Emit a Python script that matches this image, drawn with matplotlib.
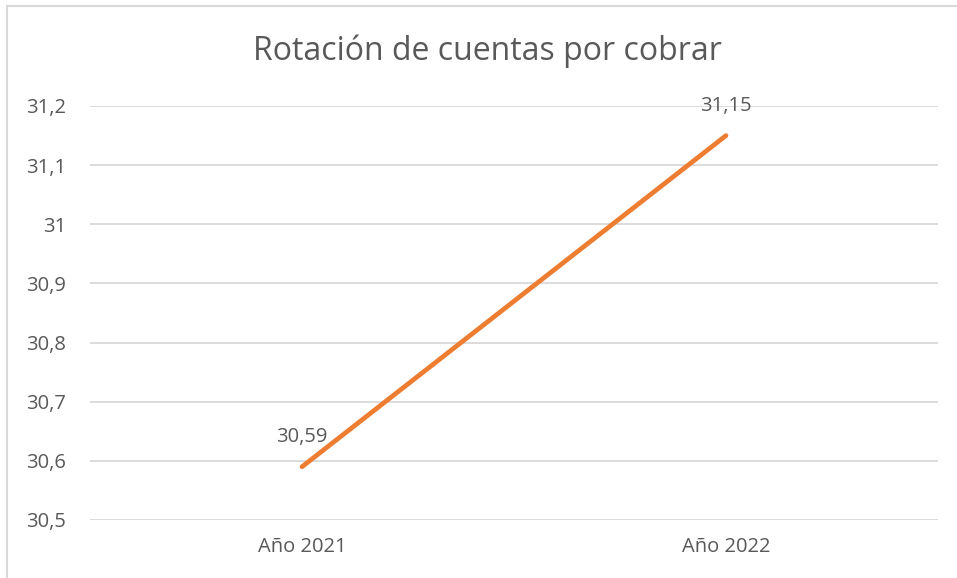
import matplotlib.pyplot as plt
from matplotlib.patches import Rectangle

years = ['Año 2021', 'Año 2022']
rotation = [30.59, 31.15]
value_labels = ['30,59', '31,15']
y_ticks = [30.5, 30.6, 30.7, 30.8, 30.9, 31.0, 31.1, 31.2]
y_tick_labels = ['30,5', '30,6', '30,7', '30,8', '30,9', '31', '31,1', '31,2']

text_color = '#595959'
plt.rcParams['font.family'] = ['Open Sans', 'DejaVu Sans']

fig = plt.figure(figsize=(9.57, 5.78), dpi=100)
ax = fig.add_axes([90 / 957, 58 / 578, 848 / 957, 414 / 578])

# chart border (only top and left edges are visible in the original)
fig.patches.append(Rectangle((7 / 957, -0.1), 1.2, (578 - 6) / 578 + 0.1,
                             transform=fig.transFigure, fill=False,
                             edgecolor='#D9D9D9', linewidth=1.5))

x = list(range(len(years)))
ax.plot(x, rotation, color='#ED7D31', linewidth=3.4, solid_capstyle='round')
for xi, yi, lab in zip(x, rotation, value_labels):
    ax.annotate(lab, (xi, yi), xytext=(0, 14), textcoords='offset points',
                ha='center', va='bottom', fontsize=14.5, color=text_color)

ax.set_xlim(-0.5, 1.5)
ax.set_ylim(30.5, 31.2)
ax.set_xticks(x)
ax.set_xticklabels(years)
ax.set_yticks(y_ticks)
ax.set_yticklabels(y_tick_labels)
ax.tick_params(length=0, labelsize=14.5, labelcolor=text_color)
ax.tick_params(axis='x', pad=12)
ax.tick_params(axis='y', pad=17)
ax.grid(axis='y', color='#D9D9D9', linewidth=1.3)
ax.set_axisbelow(True)
for s in ax.spines.values():
    s.set_visible(False)

fig.text(487 / 957, 1 - 51 / 578, 'Rotación de cuentas por cobrar', ha='center',
         va='center', fontsize=23, color=text_color)

fig.savefig('out.png', dpi=100)
